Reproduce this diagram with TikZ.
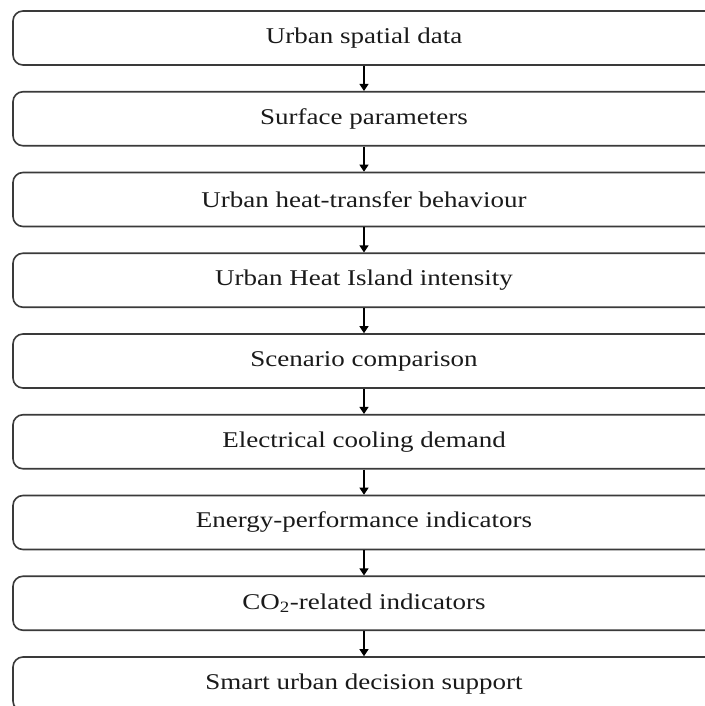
\documentclass[tikz,border=0pt]{standalone}
\usepackage{fontspec}
\setmainfont{Liberation Serif}
\usetikzlibrary{arrows.meta}
\definecolor{boxline}{HTML}{3A3A3A}
\definecolor{txt}{HTML}{1A1A1A}
\newcommand\widetext[1]{\scalebox{1.2}[1]{#1}}
\tikzset{
  flowbox/.style={draw=boxline, line width=1.6pt, rounded corners=10pt,
    minimum width=702pt, minimum height=54pt, inner sep=0pt,
    font=\fontsize{22.5pt}{26pt}\selectfont, text=txt},
  flowarrow/.style={draw=black, line width=1.2pt, -{Triangle[width=9pt,length=7pt]}}
}
\begin{document}
\begin{tikzpicture}
\useasboundingbox[fill=white] (0,0) rectangle (704pt,-706pt);
\node[flowbox] (n1) at (364pt,-38pt) {\widetext{Urban spatial data}};
\node[flowbox] (n2) at (364pt,-118.75pt) {\widetext{Surface parameters}};
\node[flowbox] (n3) at (364pt,-199.5pt) {\widetext{Urban heat-transfer behaviour}};
\node[flowbox] (n4) at (364pt,-280.25pt) {\widetext{Urban Heat Island intensity}};
\node[flowbox] (n5) at (364pt,-361pt) {\widetext{Scenario comparison}};
\node[flowbox] (n6) at (364pt,-441.75pt) {\widetext{Electrical cooling demand}};
\node[flowbox] (n7) at (364pt,-522.5pt) {\widetext{Energy-performance indicators}};
\node[flowbox] (n8) at (364pt,-603.25pt) {\widetext{CO\textsubscript{2}-related indicators}};
\node[flowbox] (n9) at (364pt,-684pt) {\widetext{Smart urban decision support}};
\foreach \a/\b in {n1/n2,n2/n3,n3/n4,n4/n5,n5/n6,n6/n7,n7/n8,n8/n9}
  \draw[flowarrow] (\a.south) -- (\b.north);
\end{tikzpicture}
\end{document}
